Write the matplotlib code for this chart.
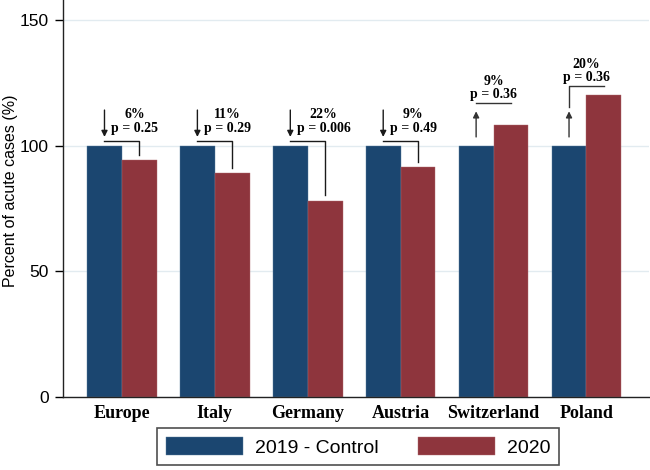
import matplotlib
matplotlib.use("Agg")
import matplotlib.pyplot as plt
import numpy as np

countries = ["Europe", "Italy", "Germany", "Austria", "Switzerland", "Poland"]
control_2019 = [100, 100, 100, 100, 100, 100]
cases_2020 = [94.3, 89.1, 78.2, 91.4, 108.2, 120.2]
pct_labels = ["6%", "11%", "22%", "9%", "9%", "20%"]
p_labels = ["p = 0.25", "p = 0.29", "p = 0.006", "p = 0.49", "p = 0.36", "p = 0.36"]
direction = ["down", "down", "down", "down", "up", "up"]
yticks = [0, 50, 100, 150]
legend_labels = ["2019 - Control", "2020"]

BLUE = "#1b4670"
RED = "#8e353d"
LINE = "#1a1a1a"

plt.rcParams["font.family"] = ["Liberation Sans", "DejaVu Sans"]

fig = plt.figure(figsize=(6.5, 4.7), dpi=100)
ax = fig.add_axes([63 / 650, 1 - 397 / 470, 1 - 63 / 650 - 0.001, 397 / 470])

x = np.arange(len(countries))
w = 0.375
ax.bar(x - w / 2, control_2019, w, color=BLUE, label=legend_labels[0], zorder=2,
       edgecolor="#5a7d9c", linewidth=0.3)
ax.bar(x + w / 2, cases_2020, w, color=RED, label=legend_labels[1], zorder=2,
       edgecolor="#b06a70", linewidth=0.3)

ax.set_xlim(-0.634, 5.677)
ax.set_ylim(0, 158)
ax.set_yticks(yticks)
ax.set_yticklabels([str(t) for t in yticks], fontsize=12.5)
ax.yaxis.grid(True, color="#e2ebf0", linewidth=1.0, zorder=0)
ax.set_axisbelow(True)
ax.set_xticks(x)
ax.set_xticklabels(countries, fontsize=13, fontweight="bold",
                   family=["Liberation Serif", "DejaVu Serif"])
ax.tick_params(axis="x", length=0, pad=6)
ax.tick_params(axis="y", length=6, width=1, direction="out", pad=4)
for s in ["top", "right"]:
    ax.spines[s].set_visible(False)
for s in ["left", "bottom"]:
    ax.spines[s].set_linewidth(1.0)
    ax.spines[s].set_color("#222222")
ax.set_ylabel("Percent of acute cases (%)", fontsize=11.5)
ax.yaxis.set_label_coords((18 - 63) / 587, 0.52)

# annotations
for i in range(len(countries)):
    bx = x[i] - w / 2
    rx = x[i] + w / 2
    r = cases_2020[i]
    txt = pct_labels[i] + "\n" + p_labels[i]
    if direction[i] == "down":
        ax.annotate("", xy=(bx, 103.5), xytext=(bx, 114.2),
                    arrowprops=dict(arrowstyle="-|>", color=LINE, lw=1.0,
                                    mutation_scale=9, shrinkA=0, shrinkB=0), zorder=4)
        by = 102
        ax.plot([bx, rx, rx], [by, by, r + 2.2], color=LINE, lw=1.0, zorder=4)
        ax.text(bx + 0.07, by + 2.4, txt, ha="left", va="bottom", multialignment="center",
                fontsize=10, fontweight="bold", linespacing=1.05,
                family=["Liberation Serif", "DejaVu Serif"], zorder=5)
    else:
        ax.annotate("", xy=(bx, 113.7), xytext=(bx, 103.5),
                    arrowprops=dict(arrowstyle="-|>", color="#333333", lw=1.0,
                                    mutation_scale=9, shrinkA=0, shrinkB=0), zorder=4)
        by = max(117.0, r + 3.4)
        if by - 115.5 > 3:
            ax.plot([bx, bx, rx], [115.5, by, by], color="#333333", lw=1.0, zorder=4)
        else:
            ax.plot([bx, rx], [by, by], color="#333333", lw=1.0, zorder=4)
        ax.text(x[i], by + 0.8, txt, ha="center", va="bottom", multialignment="center",
                fontsize=10, fontweight="bold", linespacing=1.05,
                family=["Liberation Serif", "DejaVu Serif"], zorder=5)

leg = fig.legend(loc="upper center", bbox_to_anchor=(358 / 650, 1 - 428 / 470),
                 ncol=2, fontsize=14, frameon=True, fancybox=False, borderaxespad=0,
                 handlelength=4.0, handleheight=1.1, handletextpad=0.6,
                 columnspacing=2.0, borderpad=0.45)
leg.get_frame().set_edgecolor("#222222")
leg.get_frame().set_linewidth(1.2)

fig.savefig("out.png", dpi=100)
